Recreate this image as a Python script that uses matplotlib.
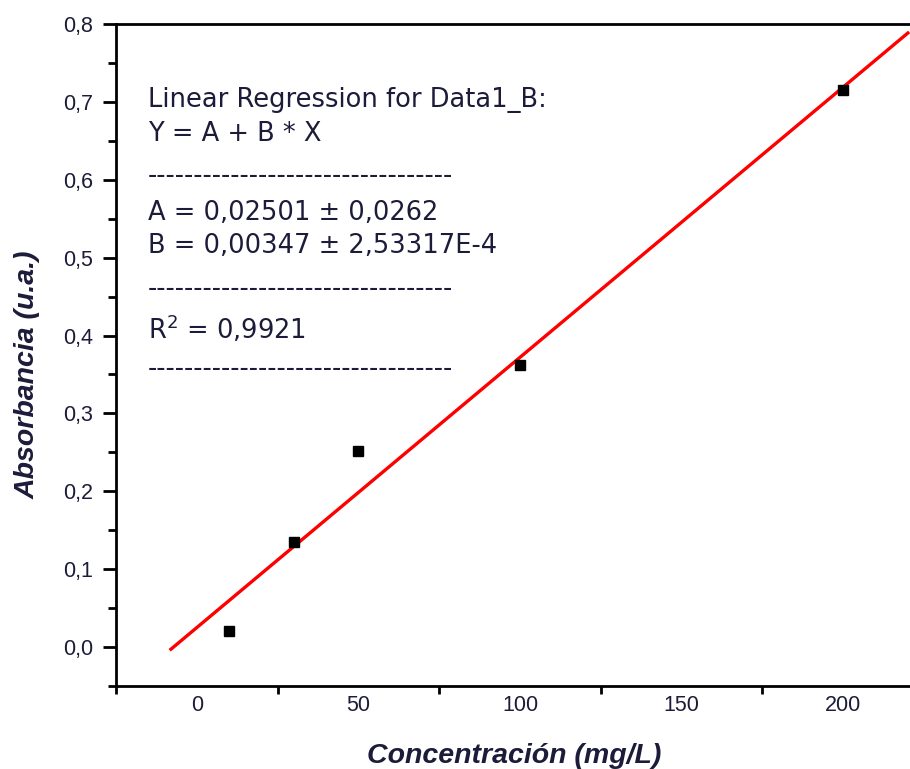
import matplotlib
matplotlib.use("Agg")
import matplotlib.pyplot as plt
from matplotlib import font_manager as fm
import numpy as np

# Data
conc = [10, 30, 50, 100, 200]
absorb = [0.020, 0.135, 0.252, 0.362, 0.715]
fit_A = 0.02501
fit_B = 0.00347
fit_x_range = [-8, 220]
xtick_labels = [0, 50, 100, 150, 200]
xtick_marks = [-25, 25, 75, 125, 175, 225]
ytick_vals = [0.0, 0.1, 0.2, 0.3, 0.4, 0.5, 0.6, 0.7, 0.8]
ytick_labels = ["0,0", "0,1", "0,2", "0,3", "0,4", "0,5", "0,6", "0,7", "0,8"]
annot_lines = [
    "Linear Regression for Data1_B:",
    "Y = A + B * X",
    "-" * 33,
    "A = 0,02501 ± 0,0262",
    "B = 0,00347 ± 2,53317E-4",
    "-" * 33,
    "R$^{2}$ = 0,9921",
    "-" * 33,
]


def find_font(stem, fallback_family, **kw):
    for f in fm.fontManager.ttflist:
        base = f.fname.replace("\\", "/").split("/")[-1]
        if base.startswith(stem + "."):
            return fm.FontProperties(fname=f.fname, **kw)
    return fm.FontProperties(family=fallback_family, **kw)


txtcol = "#1c1c3a"
fp_tick = find_font("LiberationSans-Regular", "DejaVu Sans", size=15.5)
fp_lab = find_font("LiberationSans-BoldItalic", "DejaVu Sans", size=20.5)
fp_ann = fm.FontProperties(family="DejaVu Sans", size=18.5)

fig = plt.figure(figsize=(9.10, 7.69), dpi=100)
ax = fig.add_axes([116 / 910, 83 / 769, 808 / 910, 662 / 769])

fx = np.array(fit_x_range, dtype=float)
ax.plot(fx, fit_A + fit_B * fx, color="#ff0000", lw=2.4, zorder=2)
ax.plot(conc, absorb, "s", color="black", ms=7, zorder=3)

ax.set_xlim(-25, 225)
ax.set_ylim(-0.05, 0.8)

ax.set_xticks(xtick_marks)
ax.set_xticklabels([])
ax.set_xticks(xtick_labels, minor=True)
ax.set_xticklabels([str(v) for v in xtick_labels], minor=True,
                   fontproperties=fp_tick)
ax.tick_params(axis="x", which="major", direction="out", length=6, width=2)
ax.tick_params(axis="x", which="minor", length=0, pad=6.5, labelcolor=txtcol)

ax.set_yticks(ytick_vals)
ax.set_yticklabels(ytick_labels, fontproperties=fp_tick)
ax.set_yticks([0.05 * i - 0.05 for i in range(18)], minor=True)
ax.tick_params(axis="y", which="major", direction="out", length=9.5, width=2,
               labelcolor=txtcol, pad=7)
ax.tick_params(axis="y", which="minor", direction="out", length=6, width=2)

for s in ["left", "top", "bottom"]:
    ax.spines[s].set_linewidth(2)
ax.spines["right"].set_visible(False)

ax.set_xlabel("Concentración (mg/L)", fontproperties=fp_lab, color=txtcol,
              va="center")
ax.xaxis.set_label_coords((514 - 116) / 808, (686 - 756) / 662)
ax.set_ylabel("Absorbancia (u.a.)", fontproperties=fp_lab, color=txtcol,
              va="center")
ax.yaxis.set_label_coords((28 - 116) / 808, (686 - 375) / 662)

ys_px = [100, 134, 176, 213, 246, 289, 329, 369]
for t, ypx in zip(annot_lines, ys_px):
    fig.text(148 / 910, 1 - ypx / 769, t, fontproperties=fp_ann, color=txtcol,
             va="center", ha="left")

fig.savefig("out.png", dpi=100)
